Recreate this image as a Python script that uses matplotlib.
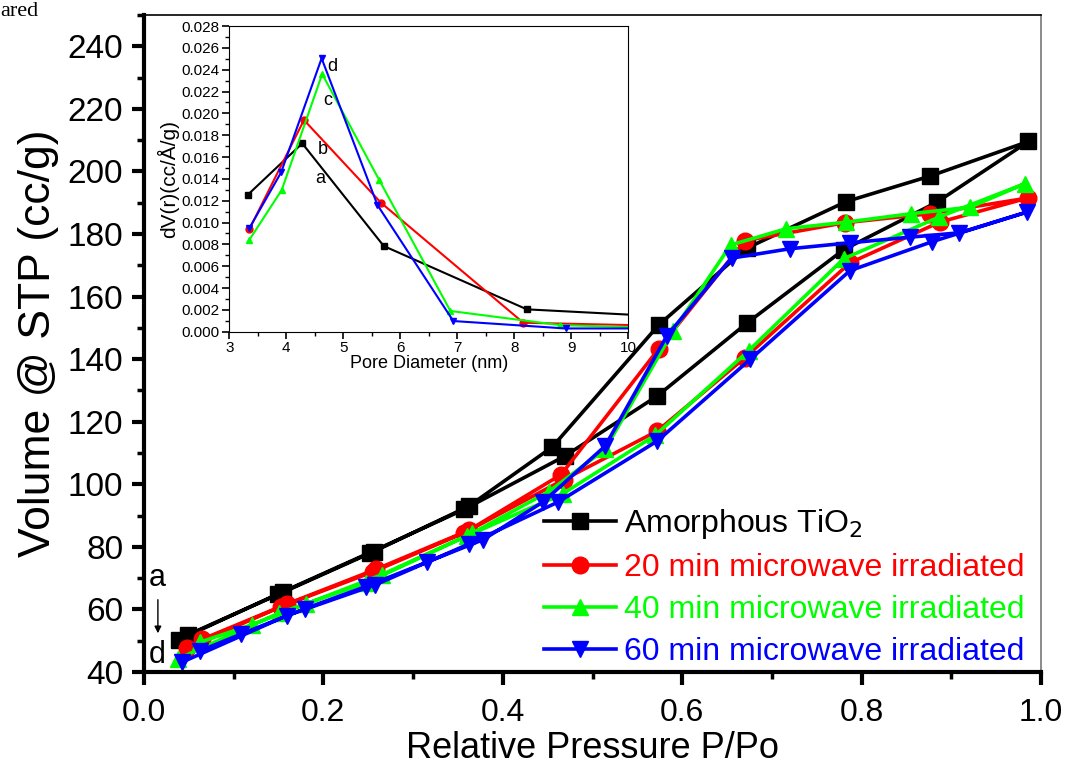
import matplotlib.pyplot as plt
from matplotlib.ticker import MultipleLocator

plt.rcParams['font.family'] = ['Liberation Sans', 'DejaVu Sans']

# ---- isotherms: adsorption branch (up) then desorption branch (down) ----
p_a = [0.039, 0.149, 0.252, 0.357, 0.469, 0.572, 0.672, 0.780, 0.884, 0.986,
       0.876, 0.783, 0.672, 0.574, 0.455, 0.362, 0.256, 0.155, 0.049]
v_a = [50.3, 64.9, 78.2, 92.0, 109.0, 128.2, 151.5, 175.0, 190.2, 209.6,
       198.5, 190.4, 175.5, 151.0, 111.9, 93.0, 78.5, 65.5, 51.9]

p_b = [0.048, 0.153, 0.255, 0.357, 0.468, 0.572, 0.670, 0.787, 0.887, 0.985,
       0.876, 0.781, 0.670, 0.574, 0.465, 0.362, 0.259, 0.159, 0.065]
v_b = [47.8, 60.9, 72.0, 84.5, 101.5, 117.0, 140.5, 170.8, 183.8, 191.5,
       186.5, 183.6, 177.9, 143.4, 103.1, 85.3, 72.9, 61.7, 50.5]

p_c = [0.038, 0.150, 0.247, 0.360, 0.467, 0.570, 0.674, 0.780, 0.886, 0.982,
       0.921, 0.855, 0.783, 0.716, 0.654, 0.590, 0.514, 0.451, 0.366, 0.265,
       0.181, 0.120, 0.062]
v_c = [44.2, 58.8, 68.4, 83.5, 97.0, 115.7, 142.7, 172.1, 185.4, 196.1,
       188.6, 186.5, 183.8, 181.7, 176.5, 149.1, 111.2, 97.6, 84.4, 71.1,
       61.8, 55.1, 49.5]

p_d = [0.042, 0.159, 0.258, 0.362, 0.462, 0.572, 0.676, 0.787, 0.879, 0.984,
       0.909, 0.854, 0.787, 0.720, 0.655, 0.583, 0.514, 0.445, 0.378, 0.316,
       0.247, 0.179, 0.108, 0.062]
v_d = [43.1, 58.0, 67.9, 80.9, 94.4, 113.8, 140.0, 168.3, 177.6, 187.0,
       180.4, 179.0, 177.2, 175.3, 172.3, 147.5, 112.2, 94.4, 82.3, 75.2,
       67.3, 60.2, 52.1, 46.7]

labels = ['Amorphous TiO$_2$', '20 min microwave irradiated',
          '40 min microwave irradiated', '60 min microwave irradiated']
colors = ['black', '#FF0000', '#00FF00', '#0000FF']
markers = ['s', 'o', '^', 'v']

# ---- pore size distribution (inset) ----
d_a = [3.32, 4.28, 5.71, 8.22, 11.0]
r_a = [0.01252, 0.01725, 0.00785, 0.00205, 0.0013]
d_b = [3.35, 4.31, 5.66, 8.16, 11.0]
r_b = [0.00937, 0.01939, 0.01182, 0.00082, 0.0005]
d_c = [3.35, 3.92, 4.63, 5.63, 6.88, 8.81, 11.0]
r_c = [0.0084, 0.01298, 0.0236, 0.0139, 0.0019, 0.0006, 0.0003]
d_d = [3.35, 3.91, 4.62, 5.60, 6.93, 8.90, 11.0]
r_d = [0.00947, 0.0146, 0.02504, 0.0116, 0.00098, 0.0003, 0.0003]

fig = plt.figure(figsize=(10.65, 7.72), dpi=100)
ax = fig.add_axes([0.1352, 0.1295, 0.8423, 0.851])

for p, v, c, m, lab in zip([p_a, p_b, p_c, p_d], [v_a, v_b, v_c, v_d],
                           colors, markers, labels):
    ax.plot(p, v, color=c, marker=m, markersize=12, linewidth=2.6, label=lab)

ax.set_xlim(0, 1.0)
ax.set_ylim(40, 250)
ax.xaxis.set_major_locator(MultipleLocator(0.2))
ax.xaxis.set_minor_locator(MultipleLocator(0.1))
ax.yaxis.set_minor_locator(MultipleLocator(10))
ax.set_yticks(range(40, 241, 20))
ax.tick_params(which='major', direction='out', length=9, width=3)
ax.tick_params(which='minor', direction='out', length=5, width=2.5)
ax.tick_params(axis='y', which='major', labelsize=24, pad=6)
ax.tick_params(axis='x', which='major', labelsize=23, pad=10)
ax.spines['left'].set_linewidth(3)
ax.spines['bottom'].set_linewidth(3)
ax.spines['top'].set_linewidth(1.2)
ax.spines['right'].set_linewidth(1.2)
ax.spines['right'].set_color('#777777')
ax.set_xlabel('Relative Pressure P/Po', fontsize=26, labelpad=2)
ax.set_ylabel('Volume @ STP (cc/g)', fontsize=32, labelpad=6)

leg = ax.legend(loc='lower right', bbox_to_anchor=(0.987, 0.0), frameon=False,
                fontsize=23, handlelength=2.25, handletextpad=0.25,
                labelspacing=0.38, borderaxespad=0.0, borderpad=0.15)
for t, c in zip(leg.get_texts(), colors):
    t.set_color(c)

ax.text(0.0145, 70, 'a', fontsize=22, ha='center', va='center')
ax.text(0.0145, 45.5, 'd', fontsize=22, ha='center', va='center')
ax.annotate('', xy=(0.0155, 51.5), xytext=(0.0155, 64),
            arrowprops=dict(arrowstyle='-|>', color='black', lw=1,
                            mutation_scale=10))

fig.text(0.0, 0.998, 'ared', fontsize=16, family='Liberation Serif',
         ha='left', va='top')

# ---- inset ----
ins = fig.add_axes([0.2153, 0.5703, 0.3746, 0.396])
for d, r, c, m in zip([d_a, d_b, d_c, d_d], [r_a, r_b, r_c, r_d], colors, markers):
    ins.plot(d, r, color=c, marker=m, markersize=5, linewidth=1.5)
ins.set_xlim(3, 10)
ins.set_ylim(0, 0.028)
ins.xaxis.set_major_locator(MultipleLocator(1))
ins.xaxis.set_minor_locator(MultipleLocator(0.5))
ins.yaxis.set_major_locator(MultipleLocator(0.002))
ins.yaxis.set_minor_locator(MultipleLocator(0.001))
ins.yaxis.set_major_formatter(plt.FormatStrFormatter('%.3f'))
ins.tick_params(which='major', direction='out', length=5, width=1.2, labelsize=11, pad=2)
ins.tick_params(which='minor', direction='out', length=3, width=1)
ins.set_xlabel('Pore Diameter (nm)', fontsize=13, labelpad=0)
ins.set_ylabel('dV(r)(cc/Å/g)', fontsize=15, labelpad=2)
ins.text(4.60, 0.0140, 'a', fontsize=13, ha='center', va='center')
ins.text(4.64, 0.0167, 'b', fontsize=13, ha='center', va='center')
ins.text(4.72, 0.0212, 'c', fontsize=13, ha='center', va='center')
ins.text(4.81, 0.0243, 'd', fontsize=13, ha='center', va='center')

fig.savefig('out.png', dpi=100)
